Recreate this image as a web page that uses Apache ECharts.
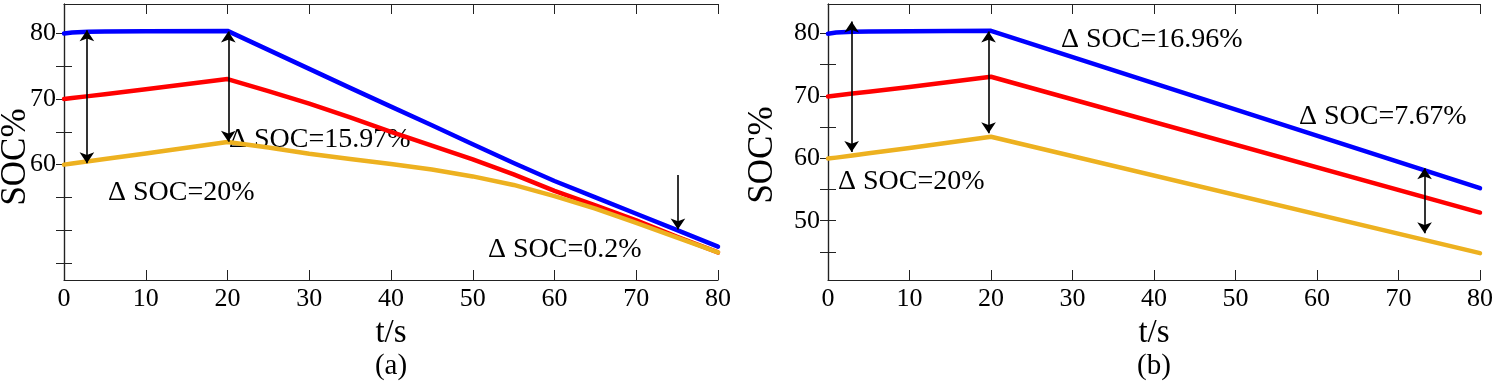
<!DOCTYPE html>
<html>
<head>
<meta charset="utf-8">
<script src="https://cdn.jsdelivr.net/npm/echarts@6/dist/echarts.min.js"></script>
<style>
  html, body { margin: 0; padding: 0; background: #fff; }
  #main { width: 1500px; height: 387px; }
</style>
</head>
<body>
<div id="main"></div>
<script>
// panel (a)
const timeA = [0, 1, 3, 5, 10, 20, 25, 30, 35, 40, 45, 50, 55, 60, 65, 70, 75, 80]
const blueA = [80.0, 80.15, 80.28, 80.32, 80.36, 80.4, 77.5, 74.6, 71.7, 68.85, 66.0, 63.1, 60.25, 57.5, 55.0, 52.5, 50.0, 47.5]
const redA = [70, 70.15, 70.45, 70.75, 71.5, 73.05, 71.2, 69.3, 67.2, 65.0, 62.9, 60.8, 58.5, 56.0, 53.8, 51.5, 49.0, 46.6]
const yellowA = [60, 60.17, 60.5, 60.85, 61.7, 63.45, 62.6, 61.65, 60.85, 60.1, 59.25, 58.2, 56.9, 55.2, 53.3, 51.1, 48.85, 46.6]

// panel (b)
const timeB = [0, 1, 3, 5, 10, 20, 80]
const blueB = [79.95, 80.12, 80.25, 80.3, 80.35, 80.4, 55.2]
const redB = [69.9, 70.05, 70.35, 70.65, 71.4, 73.05, 51.3]
const yellowB = [59.95, 60.1, 60.45, 60.8, 61.65, 63.45, 44.8]

const xTicks = [0, 10, 20, 30, 40, 50, 60, 70, 80]
const yTicks = [45, 50, 55, 60, 65, 70, 75, 80]
const yLabelsA = [60, 70, 80]
const yLabelsB = [50, 60, 70, 80]

// arrows: [t, from, to, twoHeads]
const arrowsA = [[2.8, 80.5, 60.2, true], [20.1, 80.3, 63.5, true], [75.1, 58.4, 50.1, false]]
const arrowsB = [[2.9, 81.9, 61.0, true], [19.7, 80.3, 64.0, true], [73.2, 58.4, 48.0, true]]

const notesA = ['Δ SOC=15.97%', 'Δ SOC=20%', 'Δ SOC=0.2%']
const notesB = ['Δ SOC=16.96%', 'Δ SOC=7.67%', 'Δ SOC=20%']

const serif = 'Liberation Serif'
const frameColor = '#222'

function pairs (t, v) {
  return t.map((x, i) => [x, v[i]])
}

function arrowData (list) {
  return list.map(([t, a, b, two]) => [
    { coord: [t, a], symbol: two ? 'arrow' : 'none' },
    { coord: [t, b], symbol: 'arrow' }
  ])
}

function xAxes (grid) {
  return [
    {
      gridIndex: grid, type: 'value', min: 0, max: 80, interval: 10, position: 'bottom',
      axisLine: { lineStyle: { color: frameColor, width: 1.2 } },
      axisTick: { inside: true, length: 10, lineStyle: { color: frameColor } },
      axisLabel: { color: '#000', fontFamily: serif, fontSize: 26, margin: 6 },
      splitLine: { show: false },
      name: 't/s', nameLocation: 'middle', nameGap: 32,
      nameTextStyle: { color: '#000', fontFamily: serif, fontSize: 33 }
    },
    {
      gridIndex: grid, type: 'value', min: 0, max: 80, interval: 10, position: 'top',
      axisLine: { lineStyle: { color: frameColor, width: 1.2 } },
      axisTick: { inside: true, length: 10, lineStyle: { color: frameColor } },
      axisLabel: { show: false },
      splitLine: { show: false }
    }
  ]
}

function yAxes (grid, min, max, labels) {
  return [
    {
      gridIndex: grid, type: 'value', min, max, position: 'left',
      axisLine: { show: true, lineStyle: { color: frameColor, width: 1.2 } },
      axisTick: { show: true, inside: true, length: 8, customValues: yTicks, lineStyle: { color: frameColor } },
      axisLabel: { color: '#000', fontFamily: serif, fontSize: 26, margin: 8, customValues: labels },
      splitLine: { show: false }
    },
    {
      gridIndex: grid, type: 'value', min, max, position: 'right',
      axisLine: { show: true, lineStyle: { color: frameColor, width: 1.2 } },
      axisTick: { show: true, inside: true, length: 8, customValues: yTicks, lineStyle: { color: frameColor } },
      axisLabel: { show: false },
      splitLine: { show: false }
    }
  ]
}

function lineSeries (axis, t, values, color) {
  return {
    type: 'line', xAxisIndex: axis * 2, yAxisIndex: axis * 2,
    data: pairs(t, values), showSymbol: false, silent: true,
    lineStyle: { color, width: 4.5, cap: 'round', join: 'round' }
  }
}

function arrowSeries (axis, list) {
  return {
    type: 'line', xAxisIndex: axis * 2, yAxisIndex: axis * 2, data: [], z: 5,
    markLine: {
      silent: true, animation: false, symbolSize: 11,
      label: { show: false },
      lineStyle: { color: '#000', width: 1.6, type: 'solid' },
      data: arrowData(list)
    }
  }
}

function note (text, x, y) {
  return {
    type: 'text', x, y,
    style: { text, fill: '#000', fontFamily: serif, fontSize: 28, align: 'left', verticalAlign: 'middle' }
  }
}

function centered (text, x, y, size, rot) {
  return {
    type: 'text', x, y, rotation: rot || 0,
    style: { text, fill: '#000', fontFamily: serif, fontSize: size, align: 'center', verticalAlign: 'middle' }
  }
}

const chart = echarts.init(document.getElementById('main'), null, { renderer: 'canvas' })

chart.setOption({
  animation: false,
  backgroundColor: '#fff',
  grid: [
    { left: 64, top: 4, width: 654, height: 276 },
    { left: 828, top: 4, width: 652, height: 276 }
  ],
  xAxis: [...xAxes(0), ...xAxes(1)],
  yAxis: [...yAxes(0, 42.4, 84.5, yLabelsA), ...yAxes(1, 40.5, 84.7, yLabelsB)],
  series: [
    lineSeries(0, timeA, blueA, '#0000ff'),
    lineSeries(0, timeA, redA, '#ff0000'),
    lineSeries(0, timeA, yellowA, '#edb120'),
    arrowSeries(0, arrowsA),
    lineSeries(1, timeB, blueB, '#0000ff'),
    lineSeries(1, timeB, redB, '#ff0000'),
    lineSeries(1, timeB, yellowB, '#edb120'),
    arrowSeries(1, arrowsB)
  ],
  graphic: [
    centered('SOC%', 16, 157, 35, Math.PI / 2),
    centered('SOC%', 763, 155, 35, Math.PI / 2),
    note(notesA[0], 229, 140),
    note(notesA[1], 108, 193),
    note(notesA[2], 488, 250),
    note(notesB[0], 1061, 40),
    note(notesB[1], 1299, 117),
    note(notesB[2], 838, 182),
    centered('(a)', 391, 366, 29),
    centered('(b)', 1154, 366, 29)
  ]
})
</script>
</body>
</html>
